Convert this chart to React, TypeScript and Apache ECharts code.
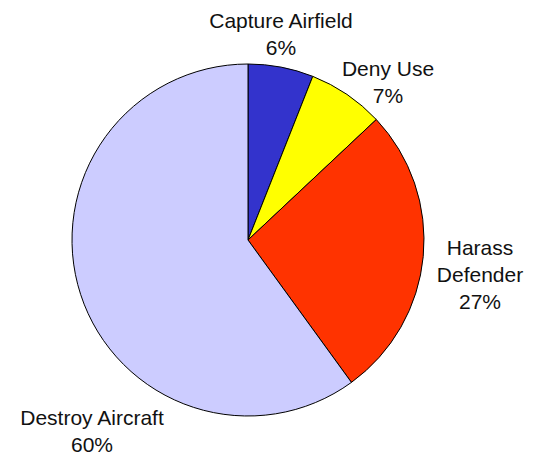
import React, { useEffect, useRef } from "react";
import * as echarts from "echarts";

const categories = ["Capture Airfield", "Deny Use", "Harass Defender", "Destroy Aircraft"];
const values = [6, 7, 27, 60];
const colors = ["#3333CC", "#FFFF00", "#FF3300", "#CCCCFF"];
// label anchor (centre of text block) for each slice
const labelAnchors: [number, number][] = [
  [281, 34],
  [388, 82],
  [480, 274],
  [92, 431],
];

export default function App() {
  const ref = useRef<HTMLDivElement>(null);
  useEffect(() => {
    if (!ref.current) return;
    const chart = echarts.init(ref.current, null, { renderer: "svg" });
    chart.setOption({
      animation: false,
      backgroundColor: "#ffffff",
      series: [
        {
          type: "pie",
          center: [248, 240],
          radius: 176,
          startAngle: 90,
          clockwise: true,
          avoidLabelOverlap: false,
          silent: true,
          data: categories.map((name, i) => ({
            name,
            value: values[i],
            itemStyle: { color: colors[i] },
          })),
          itemStyle: { borderColor: "#000000", borderWidth: 1 },
          label: {
            show: true,
            position: "outside",
            color: "#111111",
            fontFamily: "Liberation Sans, Arial, sans-serif",
            fontSize: 21,
            lineHeight: 27,
            formatter: (p: any) =>
              (p.dataIndex === 2 ? p.name.replace(" ", "\n") : p.name) + "\n" + p.percent + "%",
          },
          labelLine: { show: false },
          labelLayout: (params: any) => {
            const a = labelAnchors[params.dataIndex];
            return { x: a[0], y: a[1], align: "center", verticalAlign: "middle" };
          },
        },
      ],
    });
    return () => chart.dispose();
  }, []);
  return (
    <div
      ref={ref}
      style={{ position: "fixed", left: 0, top: 0, width: 535, height: 459 }}
    />
  );
}
